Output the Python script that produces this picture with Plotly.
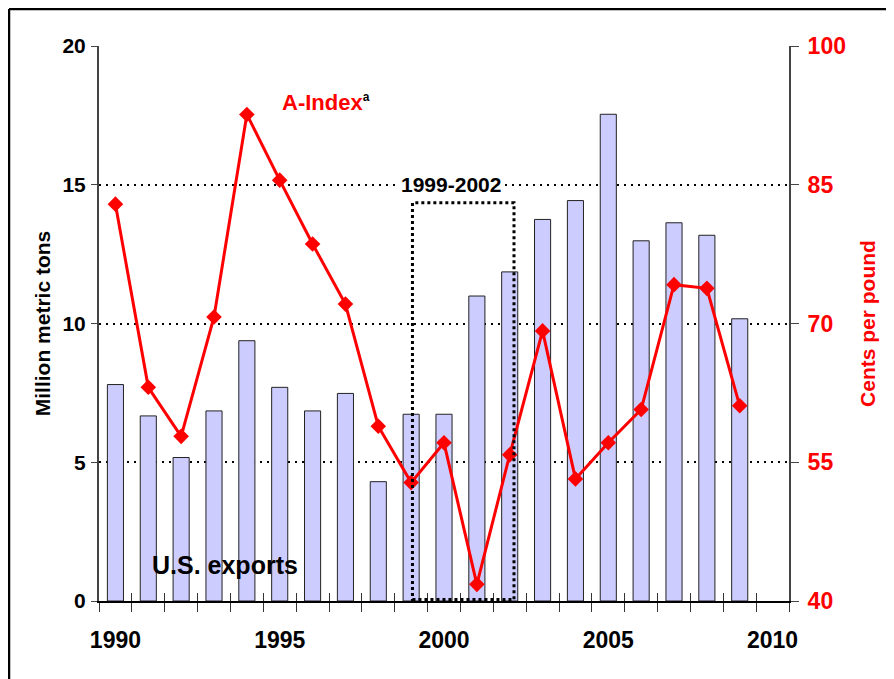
import plotly.graph_objects as go

years = list(range(1990, 2010))
us_exports = [7.8, 6.67, 5.17, 6.85, 9.38, 7.7, 6.85, 7.48, 4.3, 6.73,
              6.73, 10.99, 11.86, 13.75, 14.43, 17.54, 12.98, 13.63, 13.18, 10.17]
a_index = [82.9, 63.1, 57.8, 70.7, 92.6, 85.5, 78.6, 72.1, 58.9, 52.8,
           57.1, 41.8, 55.8, 69.2, 53.2, 57.1, 60.7, 74.2, 73.8, 61.1]
x_tick_labels = ["1990", "1995", "2000", "2005", "2010"]
x_tick_vals = [1990, 1995, 2000, 2005, 2010]
left_ticks = [0, 5, 10, 15, 20]
right_ticks = [40, 55, 70, 85, 100]
box_years = [1999, 2002]

FONT = "Liberation Sans, Arial, sans-serif"
boundaries = [y - 0.5 for y in range(1990, 2012)]

ML, MR, MT, MB = 91, 113, 38, 86
W, H = 894, 679
PW, PH = W - ML - MR, H - MT - MB

fig = go.Figure()
fig.add_trace(go.Bar(
    x=years, y=us_exports, width=0.49,
    marker=dict(color="#CCCCFF", line=dict(color="#222222", width=1)),
    yaxis="y", xaxis="x", showlegend=False, hoverinfo="skip"))
fig.add_trace(go.Scatter(
    x=years, y=a_index, mode="lines+markers",
    line=dict(color="#FF0000", width=3),
    marker=dict(symbol="diamond", size=12, color="#FF0000"),
    yaxis="y2", xaxis="x", showlegend=False))
fig.add_trace(go.Scatter(x=[None], y=[None], xaxis="x2", yaxis="y", showlegend=False))

fig.update_layout(
    width=W, height=H,
    margin=dict(l=ML, r=MR, t=MT, b=MB),
    paper_bgcolor="white", plot_bgcolor="white",
    font=dict(family=FONT, color="black"),
    xaxis=dict(
        range=[1989.5, 2010.5], showgrid=False, zeroline=False,
        showline=True, linecolor="black", linewidth=1.5,
        tickmode="array", tickvals=x_tick_vals, ticktext=x_tick_labels,
        ticks="outside", ticklen=9, tickcolor="rgba(0,0,0,0)",
        ticklabelstandoff=9,
        tickfont=dict(size=23, family=FONT, color="black", weight="bold"),
        minor=dict(tickmode="array", tickvals=boundaries, ticks="outside",
                   ticklen=9, tickcolor="#333333", tickwidth=1.2),
    ),
    xaxis2=dict(
        range=[1989.5, 2010.5], overlaying="x", anchor="y", side="bottom",
        showgrid=False, zeroline=False, showline=False, showticklabels=False,
        tickmode="array", tickvals=boundaries, ticks="inside", ticklen=8,
        tickcolor="#333333", tickwidth=1.2,
    ),
    yaxis=dict(
        range=[0, 20], tickmode="array", tickvals=left_ticks,
        showgrid=True, gridcolor="black", griddash="2px,5px", gridwidth=2,
        zeroline=False, showline=True, linecolor="#444444", linewidth=2,
        ticks="outside", ticklen=6, tickcolor="#444444",
        ticklabelstandoff=1,
        tickfont=dict(size=21, family=FONT, color="black", weight="bold"),
        title=dict(text="Million metric tons", standoff=6,
                   font=dict(size=21, family=FONT, color="black", weight="bold")),
    ),
    yaxis2=dict(
        range=[40, 100], overlaying="y", side="right", anchor="x",
        tickmode="array", tickvals=right_ticks,
        showgrid=False, zeroline=False, showline=True, linecolor="#444444", linewidth=2,
        ticks="outside", ticklen=8, tickcolor="#444444",
        ticklabelstandoff=4,
        tickfont=dict(size=23, family=FONT, color="#FF0000", weight="bold"),
        title=dict(text="Cents per pound", standoff=15,
                   font=dict(size=21, family=FONT, color="#FF0000", weight="bold")),
    ),
    showlegend=False,
)

fig.add_shape(type="rect", xref="x", yref="y",
              x0=box_years[0] + 0.04, x1=box_years[1] + 0.13, y0=0.05, y1=14.35,
              line=dict(color="black", width=3, dash="dot"), layer="above")

fig.add_annotation(x=2000.2, y=15.0, xref="x", yref="y", text="1999-2002",
                   showarrow=False, bgcolor="white",
                   font=dict(size=21, family=FONT, color="black", weight="bold"))
fig.add_annotation(x=1996.4, y=17.95, xref="x", yref="y",
                   text="A-Index<sup><span style='color:black;font-size:12px'>a</span></sup>",
                   showarrow=False,
                   font=dict(size=22, family=FONT, color="#FF0000", weight="bold"))
fig.add_annotation(x=1993.33, y=1.3, xref="x", yref="y", text="U.S. exports",
                   showarrow=False,
                   font=dict(size=25, family=FONT, color="black", weight="bold"))

bx = (1 - ML) / PW
by = 1 + (MT - 1) / PH
fig.add_shape(type="line", xref="paper", yref="paper",
              x0=bx, x1=1.5, y0=by, y1=by,
              line=dict(color="black", width=2.5))
fig.add_shape(type="line", xref="paper", yref="paper",
              x0=bx, x1=bx, y0=by, y1=-0.5,
              line=dict(color="black", width=2.5))

fig.write_html("out.html")
